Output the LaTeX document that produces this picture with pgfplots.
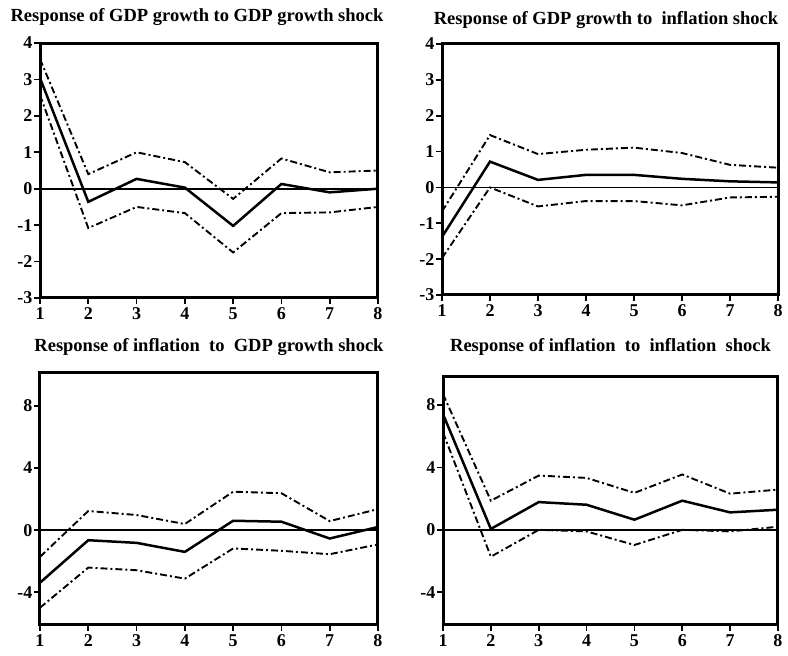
\documentclass[border=0pt]{standalone}
\usepackage{pgfplots}
\pgfplotsset{compat=1.18}
\usepackage{fontspec}
\setmainfont{Liberation Serif}

% impulse responses, periods 1..8: response, upper band, lower band
\pgfplotstableread{
t  r      up     lo
1  3.04   3.56   2.57
2  -0.36  0.40   -1.08
3  0.27   1.00   -0.50
4  0.03   0.73   -0.67
5  -1.02  -0.28  -1.75
6  0.13   0.83   -0.67
7  -0.10  0.45   -0.65
8  0.00   0.50   -0.50
}\gdpgdp
\pgfplotstableread{
t  r      up     lo
1  -1.38  -0.67  -1.97
2  0.72   1.46   0.00
3  0.21   0.93   -0.53
4  0.35   1.05   -0.38
5  0.35   1.11   -0.38
6  0.24   0.96   -0.50
7  0.17   0.63   -0.28
8  0.14   0.55   -0.26
}\gdpinf
\pgfplotstableread{
t  r      up     lo
1  -3.38  -1.72  -4.99
2  -0.65  1.23   -2.41
3  -0.82  0.97   -2.58
4  -1.40  0.39   -3.12
5  0.60   2.47   -1.18
6  0.54   2.37   -1.33
7  -0.54  0.58   -1.55
8  0.20   1.35   -0.92
}\infgdp
\pgfplotstableread{
t  r      up     lo
1  7.42   8.70   6.24
2  0.06   1.87   -1.72
3  1.78   3.48   0.00
4  1.61   3.33   -0.10
5  0.65   2.37   -0.97
6  1.87   3.55   0.00
7  1.12   2.32   -0.10
8  1.29   2.58   0.20
}\infinf

\pgfplotsset{
  irf/.style={
    scale only axis,
    anchor=south west,
    xmin=1, xmax=8,
    xtick={1,...,8},
    axis line style={line width=3pt},
    tick style={line width=1.8pt, black},
    tick align=outside,
    major tick length=6pt,
    xtick pos=bottom, ytick pos=left,
    /pgf/number format/assume math mode=true,
    tick label style={font=\fontsize{18}{18}\selectfont\bfseries},
    xticklabel style={yshift=0pt},
    yticklabel style={xshift=2pt},
    title style={font=\fontsize{18.5}{19}\selectfont\bfseries, yshift=6pt},
    clip=false,
  },
  resp/.style={black, line width=2.5pt},
  band/.style={black, line width=1.9pt, dash pattern=on 7pt off 3pt on 2pt off 3pt},
  zero/.style={black, line width=1.8pt},
}

\begin{document}
\begin{tikzpicture}[x=1pt,y=1pt]
\useasboundingbox (0,0) rectangle (788,656);

\begin{axis}[irf, at={(40pt,358pt)}, width=338pt, height=255pt,
  ymin=-3, ymax=4, ytick={-3,...,4},
  title={Response of GDP growth to GDP growth shock}, title style={xshift=-12pt, yshift=2pt}]
  \addplot[zero] coordinates {(1,0) (8,0)};
  \addplot[band] table[x=t,y=up] {\gdpgdp};
  \addplot[band] table[x=t,y=lo] {\gdpgdp};
  \addplot[resp] table[x=t,y=r] {\gdpgdp};
\end{axis}

\begin{axis}[irf, at={(442pt,361pt)}, width=336pt, height=251pt,
  ymin=-3, ymax=4, ytick={-3,...,4},
  title={Response of GDP growth to \ inflation shock}, title style={xshift=-4pt}]
  \addplot[zero] coordinates {(1,0) (8,0)};
  \addplot[band] table[x=t,y=up] {\gdpinf};
  \addplot[band] table[x=t,y=lo] {\gdpinf};
  \addplot[resp] table[x=t,y=r] {\gdpinf};
\end{axis}

\begin{axis}[irf, at={(40pt,31pt)}, width=338pt, height=252pt,
  ymin=-6.1, ymax=10.1, ytick={-4,0,4,8},
  title={Response of inflation \ to \ GDP growth shock}, title style={yshift=2pt}]
  \addplot[zero] coordinates {(1,0) (8,0)};
  \addplot[band] table[x=t,y=up] {\infgdp};
  \addplot[band] table[x=t,y=lo] {\infgdp};
  \addplot[resp] table[x=t,y=r] {\infgdp};
\end{axis}

\begin{axis}[irf, at={(443pt,31pt)}, width=335pt, height=248pt,
  ymin=-6.1, ymax=9.8, ytick={-4,0,4,8},
  title={Response of inflation \ to \ inflation \ shock}, title style={yshift=6pt}]
  \addplot[zero] coordinates {(1,0) (8,0)};
  \addplot[band] table[x=t,y=up] {\infinf};
  \addplot[band] table[x=t,y=lo] {\infinf};
  \addplot[resp] table[x=t,y=r] {\infinf};
\end{axis}
\end{tikzpicture}
\end{document}
